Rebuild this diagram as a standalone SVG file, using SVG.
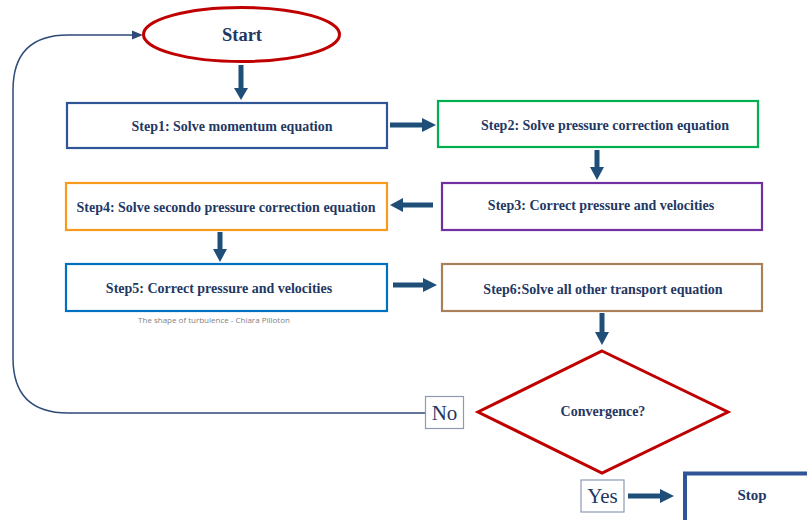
<svg xmlns="http://www.w3.org/2000/svg" width="807" height="520" viewBox="0 0 807 520">
<style>
.box{fill:#fff;stroke-width:2.2}
.t{font-family:"Liberation Serif","Times New Roman",serif;font-weight:bold;font-size:14px;fill:#1F3864;text-anchor:middle;dominant-baseline:central}
.lbl{font-family:"Liberation Serif","Times New Roman",serif;font-size:21px;fill:#1F3864;text-anchor:middle;dominant-baseline:central}
.lb{fill:#fff;stroke:#8C9AB4;stroke-width:1.2}
.arr{stroke:#1F4E79;stroke-width:5;fill:none}
.head{fill:#1F4E79}
</style>
<rect width="807" height="520" fill="#fff"/>
<g id="connectors">
<path d="M426,413 H68 Q13,413 13,358 V90 Q13,35 68,35 H135" fill="none" stroke="#2F4A78" stroke-width="1.5"/>
<polygon points="143,35 132,30.5 132,39.5" fill="#2F4A78"/>
<line class="arr" x1="241" y1="65" x2="241" y2="88"/>
<polygon class="head" points="234,88 248,88 241,100"/>
<line class="arr" x1="390" y1="125" x2="423" y2="125"/>
<polygon class="head" points="422,118 422,132 436,125"/>
<line class="arr" x1="597" y1="150" x2="597" y2="168"/>
<polygon class="head" points="590,167 604,167 597,180"/>
<line class="arr" x1="433" y1="205" x2="402" y2="205"/>
<polygon class="head" points="403,198 403,212 390,205"/>
<line class="arr" x1="220" y1="232" x2="220" y2="250"/>
<polygon class="head" points="213,249 227,249 220,262"/>
<line class="arr" x1="393" y1="285" x2="424" y2="285"/>
<polygon class="head" points="423,278 423,292 437,285"/>
<line class="arr" x1="602" y1="313" x2="602" y2="333"/>
<polygon class="head" points="595,332 609,332 602,345"/>
<line class="arr" x1="628" y1="496" x2="661" y2="496"/>
<polygon class="head" points="660,489 660,503 674,496"/>
</g>
<g id="start">
<ellipse cx="241.5" cy="34.5" rx="98" ry="27" fill="#fff" stroke="#C00000" stroke-width="3"/>
<text class="t" x="242" y="35" style="font-size:18.5px">Start</text>
</g>
<g id="step1">
<rect class="box" x="67" y="103" width="320" height="45" stroke="#2F5597"/>
<text class="t" x="232" y="126">Step1: Solve momentum equation</text>
</g>
<g id="step2">
<rect class="box" x="438" y="101" width="320" height="46" stroke="#00B050"/>
<text class="t" x="605" y="125">Step2: Solve pressure correction equation</text>
</g>
<g id="step3">
<rect class="box" x="442" y="183" width="320" height="47" stroke="#7030A0"/>
<text class="t" x="601" y="205">Step3: Correct pressure and velocities</text>
</g>
<g id="step4">
<rect class="box" x="66" y="183" width="321" height="47" stroke="#F79A1E"/>
<text class="t" x="226" y="207">Step4: Solve secondo pressure correction equation</text>
</g>
<g id="step5">
<rect class="box" x="66" y="264" width="321" height="47" stroke="#0070C0"/>
<text class="t" x="219" y="288">Step5: Correct pressure and velocities</text>
</g>
<text x="214" y="319" font-family="'Open Sans','Liberation Sans',sans-serif" font-size="8" fill="#7F7F7F" text-anchor="middle" dominant-baseline="central">The shape of turbulence - Chiara Pilloton</text>
<g id="step6">
<rect class="box" x="442" y="264" width="320" height="47" stroke="#A9805A"/>
<text class="t" x="603" y="289">Step6:Solve all other transport equation</text>
</g>
<g id="convergence">
<polygon points="602,351 728,412 602,473 478,412" fill="#fff" stroke="#C00000" stroke-width="3"/>
<text class="t" x="603" y="411" style="font-size:14px">Convergence?</text>
</g>
<g id="no">
<rect class="lb" x="425.5" y="396.5" width="38" height="32"/>
<text class="lbl" x="444.5" y="413">No</text>
</g>
<g id="yes">
<rect class="lb" x="581" y="480" width="43" height="32"/>
<text class="lbl" x="602.5" y="496">Yes</text>
</g>
<g id="stop">
<rect x="685" y="473.5" width="130" height="60" fill="#fff" stroke="#2F5597" stroke-width="4"/>
<text class="t" x="752" y="495" style="font-size:15px">Stop</text>
</g>
</svg>
